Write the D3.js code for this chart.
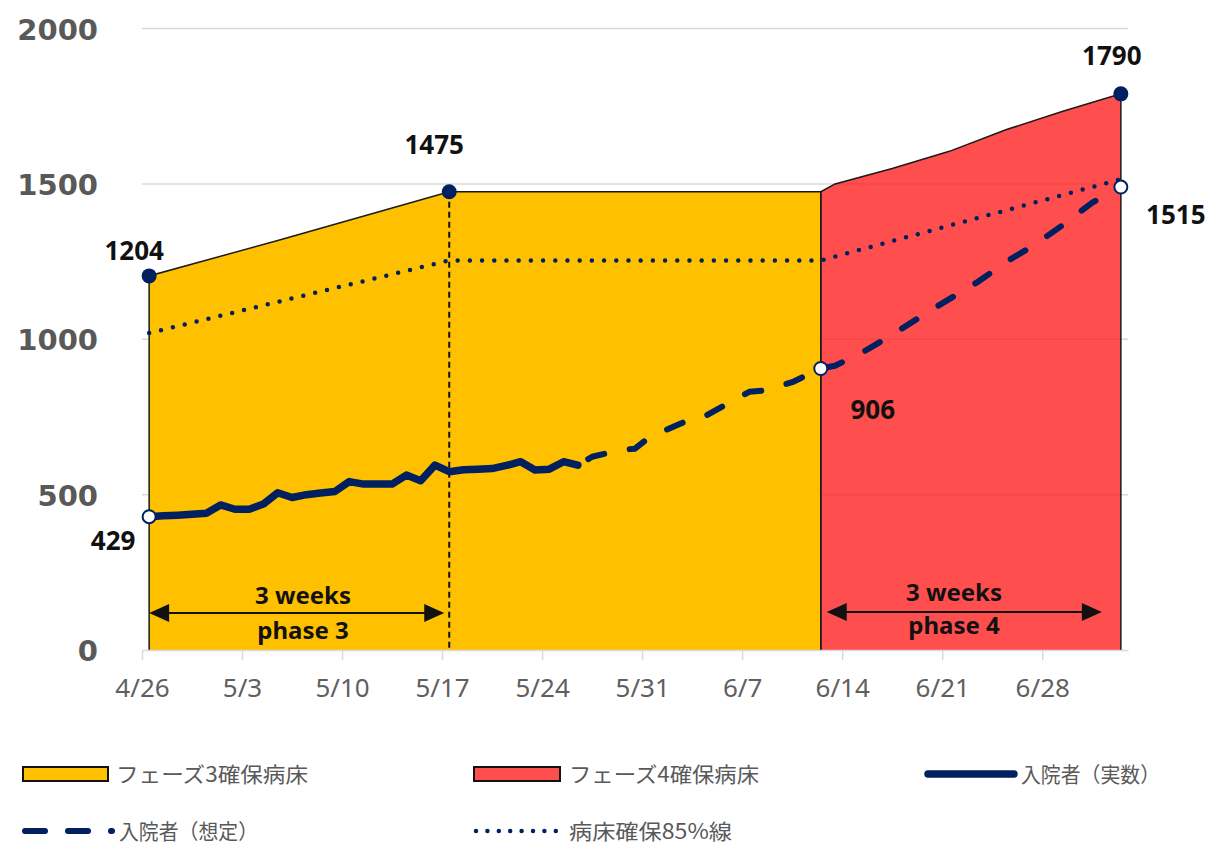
<!DOCTYPE html>
<html>
<head>
<meta charset="utf-8">
<script src="https://cdn.jsdelivr.net/npm/d3@7"></script>
<style>
  body { margin: 0; background: #ffffff; }
  svg { display: block; }
</style>
</head>
<body>
<svg id="chart" width="1209" height="845"></svg>
<script>
// ---------------- DATA ----------------
const xTickDates = ["2020-04-26","2020-05-03","2020-05-10","2020-05-17","2020-05-24","2020-05-31","2020-06-07","2020-06-14","2020-06-21","2020-06-28"];
const yTickValues = [0, 500, 1000, 1500, 2000];

// フェーズ3確保病床 (area)
const phase3Dates = ["2020-04-26","2020-05-05","2020-05-17","2020-06-12"];
const phase3Beds  = [1204, 1318, 1475, 1475];

// フェーズ4確保病床 (area)
const phase4Dates = ["2020-06-12","2020-06-13","2020-06-17","2020-06-21","2020-06-25","2020-06-29","2020-07-03"];
const phase4Beds  = [1475, 1500, 1550, 1605, 1675, 1735, 1790];

// 入院者（実数） daily from 4/26 to 5/26
const actualStart = "2020-04-26";
const actualValues = [429,432,434,437,440,467,453,453,470,506,491,500,505,510,542,534,534,534,563,545,595,574,580,582,584,594,606,579,582,606,595];

// 入院者（想定）
const assumedDates  = ["2020-05-26","2020-05-27","2020-05-29","2020-05-30","2020-05-31","2020-06-02","2020-06-03","2020-06-04","2020-06-07","2020-06-08","2020-06-10","2020-06-12","2020-06-13","2020-06-15","2020-06-17","2020-06-20","2020-06-23","2020-06-25","2020-06-27","2020-06-29","2020-07-01","2020-07-03"];
const assumedValues = [595,622,644,648,685,725,745,755,831,835,862,906,915,960,1015,1102,1185,1250,1305,1370,1440,1490];

// 病床確保85%線
const line85Dates  = ["2020-04-26","2020-05-17","2020-06-12","2020-07-03"];
const line85Values = [1020, 1254, 1254, 1515];

const legendNames = ["フェーズ3確保病床","フェーズ4確保病床","入院者（実数）","入院者（想定）","病床確保85%線"];
const annoTop = ["3 weeks","3 weeks"];
const annoBottom = ["phase 3","phase 4"];

// ---------------- SETUP ----------------
const svg = d3.select("#chart");
const parse = d3.utcParse("%Y-%m-%d");
const NAVY = "#002060";
const YELLOW = "#FFC000";
const RED = "#FF2222";

const x = d3.scaleUtc()
  .domain([parse("2020-04-26"), parse("2020-07-04")])
  .range([142, 1128]);
const y = d3.scaleLinear().domain([0, 2000]).range([650, 28.6]);
const mx = d => x(d3.utcHour.offset(d, 12)); // points sit in middle of day

const series = (dates, vals) => dates.map((d, i) => ({ date: parse(d), v: vals[i] }));
const p3 = series(phase3Dates, phase3Beds);
const p4 = series(phase4Dates, phase4Beds);
const actualDays = d3.utcDay.range(parse(actualStart), d3.utcDay.offset(parse(actualStart), actualValues.length));
const actual = actualDays.map((d, i) => ({ date: d, v: actualValues[i] }));
const assumed = series(assumedDates, assumedValues);
const l85 = series(line85Dates, line85Values);

// ---------------- GRID ----------------
svg.append("g").selectAll("line")
  .data(yTickValues.filter(v => v > 0))
  .join("line")
  .attr("x1", 142).attr("x2", 1128)
  .attr("y1", d => y(d)).attr("y2", d => y(d))
  .attr("stroke", "#d9d9d9").attr("stroke-width", 1.5);

// ---------------- AREAS ----------------
const area = d3.area().x(d => mx(d.date)).y0(y(0)).y1(d => y(d.v));
const line = d3.line().x(d => mx(d.date)).y(d => y(d.v));
const outline = arr => [{ date: arr[0].date, v: 0 }, ...arr, { date: arr[arr.length - 1].date, v: 0 }];

svg.append("path").datum(p3).attr("d", area).attr("fill", YELLOW);
svg.append("path").datum(p4).attr("d", area).attr("fill", RED).attr("fill-opacity", 0.8);
svg.append("path").datum(outline(p3)).attr("d", line)
  .attr("fill", "none").attr("stroke", "#1a1a1a").attr("stroke-width", 1.5);
svg.append("path").datum(outline(p4)).attr("d", line)
  .attr("fill", "none").attr("stroke", "#1a1a1a").attr("stroke-width", 1.5);

// ---------------- AXES ----------------
const fmt = d3.utcFormat("%-m/%-d");
const xAxis = svg.append("g").attr("transform", `translate(0,${y(0)})`)
  .call(d3.axisBottom(x).tickValues(xTickDates.map(parse)).tickFormat(fmt)
    .tickSize(10).tickSizeOuter(0).tickPadding(19));
xAxis.select(".domain").attr("stroke", "#d9d9d9").attr("stroke-width", 1.5);
xAxis.selectAll(".tick line").attr("stroke", "#d9d9d9").attr("stroke-width", 1.5);
xAxis.selectAll(".tick text")
  .attr("fill", "#5f5f5f").attr("font-family", "'Noto Sans', sans-serif").attr("font-size", 26);

const yAxis = svg.append("g").attr("transform", `translate(142,0)`)
  .call(d3.axisLeft(y).tickValues(yTickValues).tickFormat(d3.format("d")).tickSize(0).tickPadding(44));
yAxis.select(".domain").remove();
yAxis.selectAll(".tick text")
  .attr("fill", "#595959").attr("font-family", "'DejaVu Sans', sans-serif")
  .attr("font-weight", "bold").attr("font-size", 29).attr("dy", "0.36em");

// vertical dashed line at end of phase 3 ramp-up
svg.append("line")
  .attr("x1", mx(p3[2].date)).attr("x2", mx(p3[2].date))
  .attr("y1", y(p3[2].v)).attr("y2", y(0))
  .attr("stroke", "#111").attr("stroke-width", 2).attr("stroke-dasharray", "6 4");

// ---------------- LINES ----------------
svg.append("path").datum(l85).attr("d", line)
  .attr("fill", "none").attr("stroke", NAVY).attr("stroke-width", 4.5)
  .attr("stroke-linecap", "round").attr("stroke-dasharray", "0 12.2");
svg.append("path").datum(assumed).attr("d", line)
  .attr("fill", "none").attr("stroke", NAVY).attr("stroke-width", 6)
  .attr("stroke-linecap", "round").attr("stroke-linejoin", "round")
  .attr("stroke-dasharray", "17 26").attr("stroke-dashoffset", -12);
svg.append("path").datum(actual).attr("d", line)
  .attr("fill", "none").attr("stroke", NAVY).attr("stroke-width", 7.5)
  .attr("stroke-linecap", "round").attr("stroke-linejoin", "round");

// ---------------- MARKERS & LABELS ----------------
const filledMarkers = [p3[0], p3[2], p4[p4.length - 1]];
const openMarkers = [actual[0], assumed[assumedDates.indexOf("2020-06-12")], assumed[assumed.length - 1]];

svg.append("g").selectAll("circle").data(filledMarkers).join("circle")
  .attr("cx", d => mx(d.date)).attr("cy", d => y(d.v)).attr("r", 7.5).attr("fill", NAVY);
svg.append("g").selectAll("circle").data(openMarkers).join("circle")
  .attr("cx", d => mx(d.date)).attr("cy", d => y(d.v)).attr("r", 6.5)
  .attr("fill", "#fff").attr("stroke", NAVY).attr("stroke-width", 2);

const labels = [
  { pt: p3[0], text: p3[0].v, dx: -15, dy: -16 },
  { pt: p3[2], text: p3[2].v, dx: -15, dy: -38 },
  { pt: p4[p4.length - 1], text: p4[p4.length - 1].v, dx: -9, dy: -29 },
  { pt: openMarkers[2], text: l85[l85.length - 1].v, dx: 55, dy: 37 },
  { pt: openMarkers[1], text: openMarkers[1].v, dx: 52, dy: 50 },
  { pt: openMarkers[0], text: openMarkers[0].v, dx: -36, dy: 33 }
];
svg.append("g").selectAll("text").data(labels).join("text")
  .attr("x", d => mx(d.pt.date) + d.dx).attr("y", d => y(d.pt.v) + d.dy)
  .attr("text-anchor", "middle").attr("font-family", "'Noto Sans', sans-serif")
  .attr("font-weight", "bold").attr("font-size", 26).attr("fill", "#111")
  .text(d => d.text);

// ---------------- ANNOTATIONS ----------------
const annos = [
  { x0: mx(p3[0].date), x1: mx(p3[2].date) - 5, ay: 613, tx: 303, t1y: 604, t2y: 639 },
  { x0: mx(p4[0].date) + 6, x1: mx(p4[p4.length - 1].date) - 19, ay: 612, tx: 954, t1y: 601, t2y: 634 }
];
const ag = svg.append("g");
annos.forEach((a, i) => {
  ag.append("line").attr("x1", a.x0 + 10).attr("x2", a.x1 - 10).attr("y1", a.ay).attr("y2", a.ay)
    .attr("stroke", "#111").attr("stroke-width", 2);
  ag.append("path").attr("d", `M${a.x0},${a.ay}L${a.x0 + 20},${a.ay - 9}L${a.x0 + 20},${a.ay + 9}Z`).attr("fill", "#111");
  ag.append("path").attr("d", `M${a.x1},${a.ay}L${a.x1 - 20},${a.ay - 9}L${a.x1 - 20},${a.ay + 9}Z`).attr("fill", "#111");
  ag.append("text").attr("x", a.tx).attr("y", a.t1y).attr("text-anchor", "middle")
    .attr("font-family", "'Noto Sans', sans-serif").attr("font-weight", "bold").attr("font-size", 24)
    .attr("fill", "#111").text(annoTop[i]);
  ag.append("text").attr("x", a.tx).attr("y", a.t2y).attr("text-anchor", "middle")
    .attr("font-family", "'Noto Sans', sans-serif").attr("font-weight", "bold").attr("font-size", 24)
    .attr("fill", "#111").text(annoBottom[i]);
});

// ---------------- LEGEND ----------------
const legendLayout = [
  { type: "rect", fill: YELLOW, sx: 23, sw: 85, cy: 774, tx: 116, tw: 192 },
  { type: "rect", fill: "#FF4E4E", sx: 474, sw: 86, cy: 774, tx: 569, tw: 190 },
  { type: "solid", sx: 928, sw: 86, cy: 774, tx: 1021, tw: 139 },
  { type: "dash", sx: 25, sw: 87, cy: 831, tx: 119, tw: 139 },
  { type: "dot", sx: 476, sw: 80, cy: 831, tx: 569, tw: 163 }
];
const lg = svg.append("g");
legendLayout.forEach((l, i) => {
  if (l.type === "rect") {
    lg.append("rect").attr("x", l.sx).attr("y", l.cy - 7).attr("width", l.sw).attr("height", 14)
      .attr("fill", l.fill).attr("stroke", "#111").attr("stroke-width", 2);
  } else {
    const ln = lg.append("line").attr("x1", l.sx).attr("x2", l.sx + l.sw).attr("y1", l.cy).attr("y2", l.cy)
      .attr("stroke", NAVY).attr("stroke-linecap", "round");
    if (l.type === "solid") ln.attr("stroke-width", 7.5);
    if (l.type === "dash") ln.attr("stroke-width", 6).attr("stroke-dasharray", "20 23 20 23 1 200").attr("x2", l.sx + 88);
    if (l.type === "dot") ln.attr("stroke-width", 4.5).attr("stroke-dasharray", "0 11.4");
  }
  lg.append("text").attr("x", l.tx).attr("y", l.cy).attr("dy", "0.36em")
    .attr("font-family", "'Noto Sans CJK JP', sans-serif").attr("font-size", 21)
    .attr("textLength", l.tw).attr("lengthAdjust", "spacingAndGlyphs")
    .attr("fill", "#595959").text(legendNames[i]);
});
</script>
</body>
</html>
